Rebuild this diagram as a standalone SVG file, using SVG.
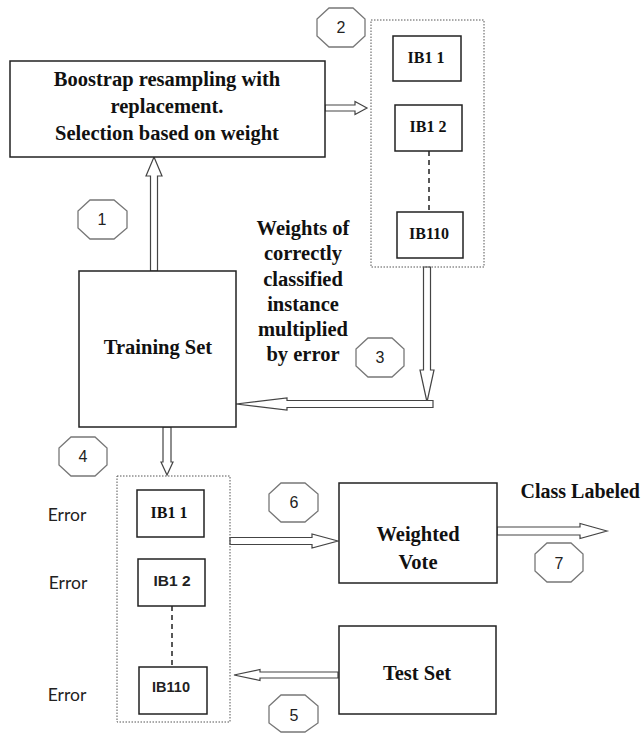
<svg xmlns="http://www.w3.org/2000/svg" width="641" height="733" viewBox="0 0 641 733">
<style>
.box{fill:#fff;stroke:#222;stroke-width:1.5}
.dot{fill:none;stroke:#555;stroke-width:1;stroke-dasharray:1.5 1.5}
.oct{fill:#fff;stroke:#777;stroke-width:1.3}
.arr{fill:#fff;stroke:#444;stroke-width:1.2;stroke-linejoin:miter}
.dash{stroke:#222;stroke-width:1.5;stroke-dasharray:5 4}
.sb{font-family:"Liberation Serif",serif;font-weight:bold;fill:#111;text-anchor:middle}
.big{font-size:20.5px}
.ib{font-size:16px}
.ss{font-family:"Liberation Sans",sans-serif;fill:#222;text-anchor:middle}
.err{font-family:Lato,"Liberation Sans",sans-serif;font-size:17.5px;fill:#222;text-anchor:middle}
.num{font-family:"Liberation Sans",sans-serif;font-size:16px;fill:#222;text-anchor:middle}
</style>
<rect width="641" height="733" fill="#fff"/>
<g id="connectors">
<polygon class="arr" points="154,157 162,176 157.5,176 157.5,271 150.5,271 150.5,176 146,176"/>
<polygon class="arr" points="367,108 355,101.5 355,105 325,105 325,111 355,111 355,114.5"/>
<polygon class="arr" points="427,402 420,370 423.5,370 423.5,267 430.5,267 430.5,370 434,370"/>
<polygon class="arr" points="236,404 287,398 287,400.5 433,400.5 433,407.5 287,407.5 287,410"/>
<polygon class="arr" points="167,475 161,462 163,462 163,427 171,427 171,462 173,462"/>
<polygon class="arr" points="338,541 312,534 312,537.5 230,537.5 230,544.5 312,544.5 312,548"/>
<polygon class="arr" points="607,531 580,523.5 580,527 497,527 497,535 580,535 580,538.5"/>
<polygon class="arr" points="234,675 260,669.5 260,672 338,672 338,678 260,678 260,680.5"/>
<line class="dash" x1="429" y1="151" x2="429" y2="212"/>
<line class="dash" x1="172" y1="606" x2="172" y2="667"/>
</g>
<g id="bootstrap">
<rect class="box" x="10" y="61" width="315" height="96"/>
<text class="sb big" x="167" y="86">Boostrap resampling with</text>
<text class="sb big" x="167" y="113">replacement.</text>
<text class="sb big" x="167" y="140">Selection based on weight</text>
</g>
<g id="ensemble1">
<rect class="dot" x="371" y="20" width="113" height="247"/>
<rect class="box" x="393" y="36" width="68" height="45"/>
<text class="sb ib" x="426" y="63">IB1 1</text>
<rect class="box" x="395" y="105" width="67" height="46"/>
<text class="sb ib" x="428" y="132">IB1 2</text>
<rect class="box" x="397" y="212" width="66" height="46"/>
<text class="sb ib" x="429" y="239">IB110</text>
</g>
<g id="training">
<rect class="box" x="79" y="271" width="157" height="156"/>
<text class="sb big" x="158" y="354">Training Set</text>
</g>
<g id="weights-label">
<text class="sb big" x="303" y="235">Weights of</text>
<text class="sb big" x="303" y="260">correctly</text>
<text class="sb big" x="303" y="286">classified</text>
<text class="sb big" x="303" y="311">instance</text>
<text class="sb big" x="303" y="336">multiplied</text>
<text class="sb big" x="303" y="361">by error</text>
</g>
<g id="ensemble2">
<rect class="dot" x="117" y="476" width="113" height="246"/>
<rect class="box" x="137" y="490" width="67" height="47"/>
<text class="sb ib" x="169" y="518">IB1 1</text>
<rect class="box" x="138" y="559" width="67" height="47"/>
<text class="ss" font-size="15.5" font-weight="bold" x="172" y="586">IB1 2</text>
<rect class="box" x="139" y="667" width="68" height="47"/>
<text class="ss" font-size="14.5" font-weight="bold" x="171" y="692">IB110</text>
</g>
<g id="errors">
<text class="err" x="67" y="521">Error</text>
<text class="err" x="68" y="589">Error</text>
<text class="err" x="67" y="701">Error</text>
</g>
<g id="weighted-vote">
<rect class="box" x="339" y="483" width="158" height="100"/>
<text class="sb big" x="418" y="541">Weighted</text>
<text class="sb big" x="418" y="569">Vote</text>
</g>
<g id="class-labeled">
<text class="sb" font-size="20" text-anchor="end" x="640" y="498" style="text-anchor:end">Class Labeled</text>
</g>
<g id="test-set">
<rect class="box" x="339" y="626" width="157" height="88"/>
<text class="sb big" x="417" y="680">Test Set</text>
</g>
<g id="step1"><polygon class="oct" points="90,200 114,200 127,211 127,228 114,239 90,239 78,228 78,211"/><text class="num" x="102" y="225">1</text></g>
<g id="step2"><polygon class="oct" points="329,8 353,8 365,19 365,36 353,47 329,47 317,36 317,19"/><text class="num" x="341" y="33">2</text></g>
<g id="step3"><polygon class="oct" points="368,338 392,338 404,349 404,366 392,377 368,377 356,366 356,349"/><text class="num" x="380" y="363">3</text></g>
<g id="step4"><polygon class="oct" points="71,437 95,437 107,448 107,465 95,476 71,476 59,465 59,448"/><text class="num" x="83" y="462">4</text></g>
<g id="step5"><polygon class="oct" points="281,695 305,695 318,706 318,723 305,732 281,732 269,723 269,706"/><text class="num" x="294" y="721">5</text></g>
<g id="step6"><polygon class="oct" points="281,483 305,483 318,494 318,511 305,522 281,522 269,511 269,494"/><text class="num" x="294" y="508">6</text></g>
<g id="step7"><polygon class="oct" points="547,543 571,543 583,554 583,571 571,582 547,582 535,571 535,554"/><text class="num" x="559" y="569">7</text></g>
</svg>
